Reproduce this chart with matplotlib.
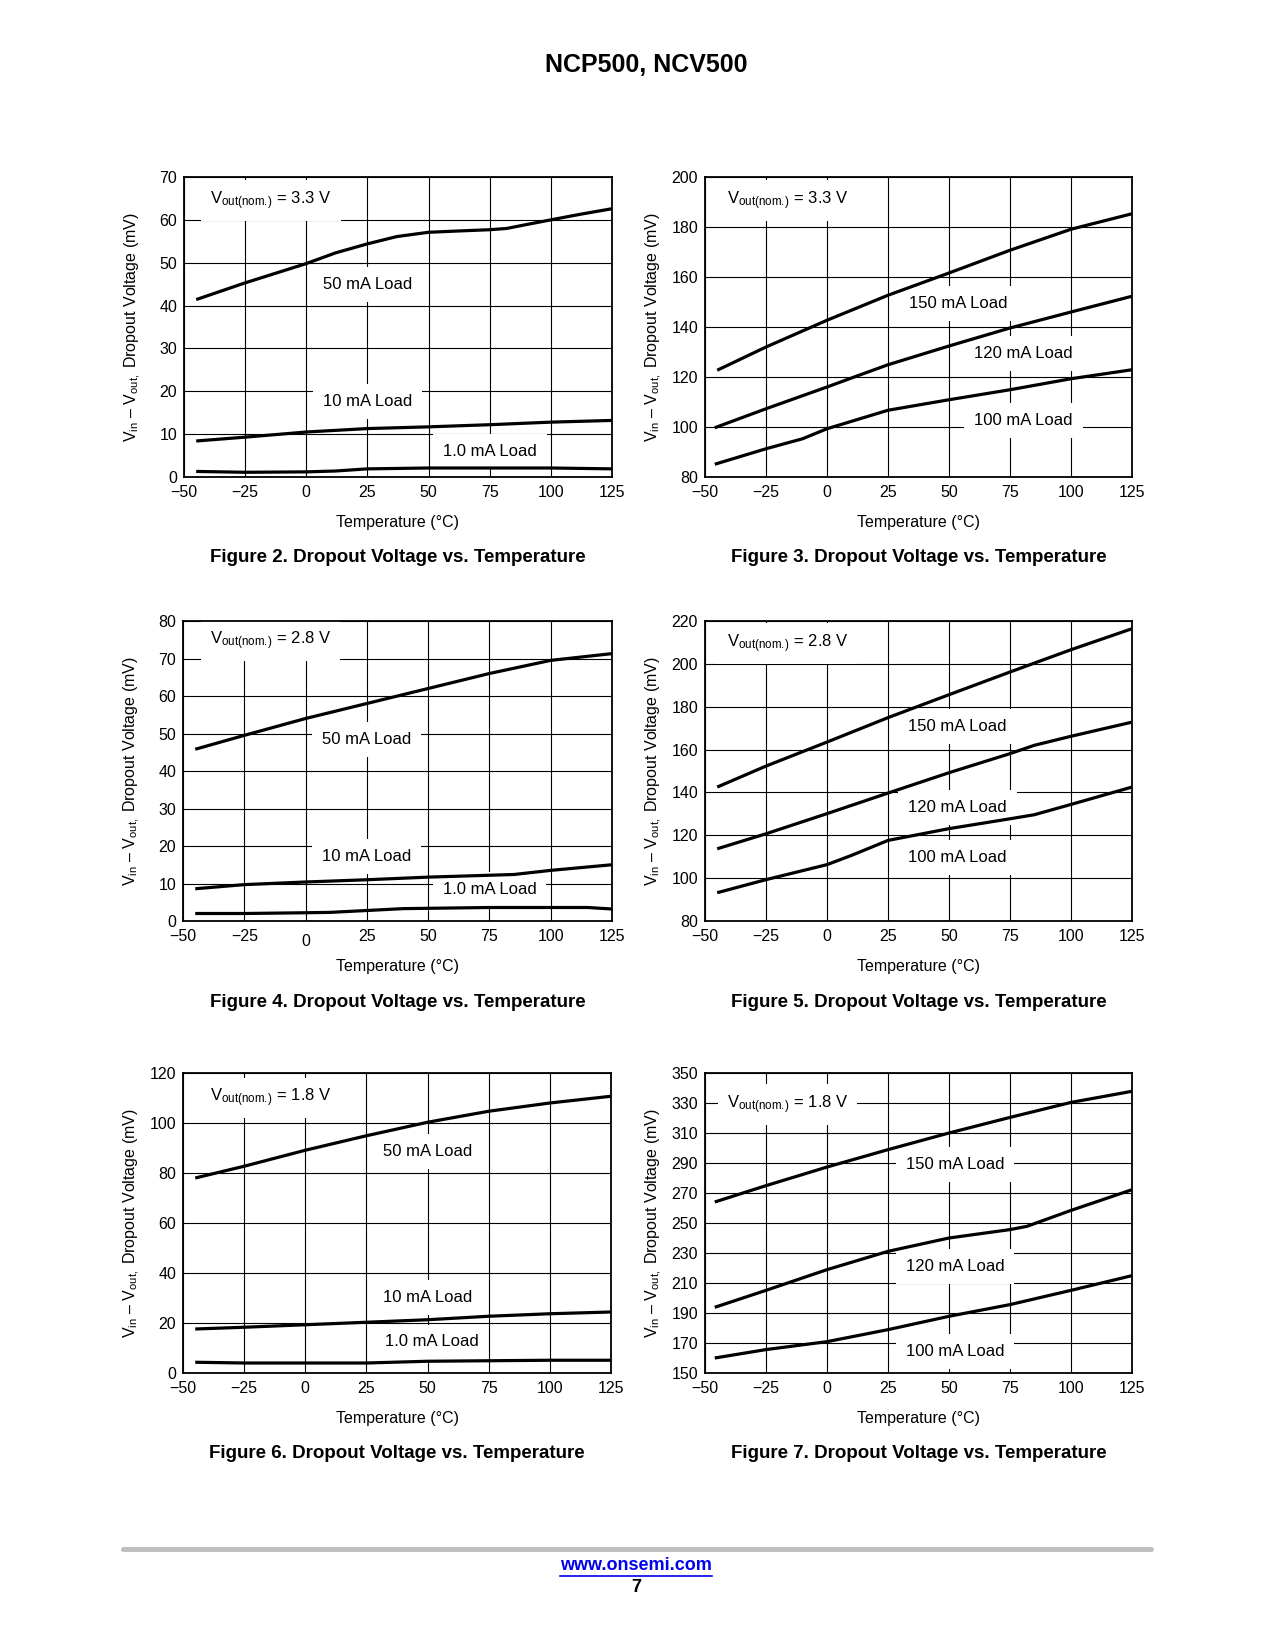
import matplotlib
matplotlib.use("Agg")
import matplotlib.pyplot as plt
from matplotlib.lines import Line2D

plt.rcParams["font.family"] = ["Liberation Sans", "DejaVu Sans"]
plt.rcParams["mathtext.fontset"] = "custom"
plt.rcParams["mathtext.rm"] = "Liberation Sans"
plt.rcParams["mathtext.it"] = "Liberation Sans:italic"
plt.rcParams["mathtext.bf"] = "Liberation Sans:bold"

# ---- data (temperature degC, dropout mV) ----
# Figure 2: Vout(nom.) = 3.3 V, light loads
F2_T50 = [-45, -25, 0, 12, 25, 37, 50, 62, 75, 82, 90, 100, 112, 125]
F2_V50 = [41.4, 45.3, 49.8, 52.3, 54.4, 56.1, 57.1, 57.4, 57.7, 58.0, 58.9, 60.0, 61.3, 62.6]
F2_T10 = [-45, -25, 0, 25, 50, 75, 100, 125]
F2_V10 = [8.4, 9.3, 10.5, 11.3, 11.7, 12.2, 12.8, 13.2]
F2_T1 = [-45, -25, 0, 12, 25, 50, 75, 100, 125]
F2_V1 = [1.3, 1.1, 1.2, 1.4, 1.9, 2.1, 2.1, 2.1, 1.9]

# Figure 3: Vout(nom.) = 3.3 V, heavy loads
F3_T150 = [-45, -25, 0, 25, 50, 75, 100, 125]
F3_V150 = [122.7, 132.0, 142.7, 152.7, 161.6, 170.7, 179.1, 185.3]
F3_T120 = [-46, -25, 0, 12, 25, 50, 75, 100, 125]
F3_V120 = [99.7, 107.3, 116.0, 120.3, 124.9, 132.4, 139.6, 146.0, 152.3]
F3_T100 = [-46, -25, -10, 0, 25, 50, 75, 100, 125]
F3_V100 = [85.1, 91.3, 95.3, 99.3, 106.7, 110.9, 114.9, 119.3, 122.9]

# Figure 4: Vout(nom.) = 2.8 V, light loads
F4_T50 = [-45, -25, 0, 25, 50, 75, 100, 125]
F4_V50 = [45.8, 49.5, 54.0, 58.0, 62.0, 66.0, 69.5, 71.3]
F4_T10 = [-45, -25, 0, 25, 50, 75, 85, 100, 125]
F4_V10 = [8.6, 9.7, 10.4, 11.0, 11.7, 12.2, 12.4, 13.5, 15.0]
F4_T1 = [-45, -25, 0, 10, 25, 40, 75, 100, 115, 125]
F4_V1 = [2.0, 2.0, 2.2, 2.3, 2.8, 3.3, 3.6, 3.6, 3.6, 3.2]

# Figure 5: Vout(nom.) = 2.8 V, heavy loads
F5_T150 = [-45, -25, 0, 25, 50, 75, 100, 125]
F5_V150 = [142.5, 152.3, 163.5, 174.9, 185.6, 196.2, 206.6, 216.4]
F5_T120 = [-45, -25, 0, 25, 50, 75, 85, 100, 125]
F5_V120 = [113.7, 120.7, 130.1, 139.7, 149.2, 158.1, 162.0, 166.2, 172.8]
F5_T100 = [-45, -25, 0, 10, 25, 50, 75, 85, 100, 125]
F5_V100 = [93.2, 99.3, 106.3, 110.6, 117.6, 123.1, 127.7, 129.6, 134.4, 142.5]

# Figure 6: Vout(nom.) = 1.8 V, light loads
F6_T50 = [-45, -25, 0, 25, 50, 75, 100, 125]
F6_V50 = [78.0, 82.7, 89.1, 94.9, 100.3, 104.7, 108.0, 110.7]
F6_T10 = [-45, -25, 0, 25, 50, 75, 100, 125]
F6_V10 = [17.6, 18.3, 19.3, 20.3, 21.3, 22.7, 23.7, 24.4]
F6_T1 = [-45, -25, 0, 25, 50, 75, 100, 125]
F6_V1 = [4.3, 4.0, 4.0, 4.0, 4.7, 4.9, 5.1, 5.1]

# Figure 7: Vout(nom.) = 1.8 V, heavy loads
F7_T150 = [-46, -25, 0, 25, 50, 75, 100, 125]
F7_V150 = [264.0, 274.9, 287.3, 298.9, 310.0, 320.4, 330.4, 337.8]
F7_T120 = [-46, -25, 0, 25, 50, 75, 82, 100, 125]
F7_V120 = [193.8, 205.1, 218.9, 231.1, 240.0, 245.6, 247.8, 258.4, 272.2]
F7_T100 = [-46, -25, 0, 25, 50, 75, 100, 125]
F7_V100 = [160.0, 165.6, 170.9, 178.9, 187.8, 195.6, 205.1, 214.9]

X_TICKS = [-50, -25, 0, 25, 50, 75, 100, 125]

W, H = 1275, 1650
fig = plt.figure(figsize=(W / 100, H / 100), dpi=100)


def make_axes(left, top, right, bottom):
    return fig.add_axes([left / W, 1 - bottom / H, (right - left) / W, (bottom - top) / H])


def style(ax, ylim, ystep, fignum):
    ax.set_xlim(-50, 125)
    ax.set_ylim(*ylim)
    ax.set_xticks(X_TICKS)
    ax.set_yticks(range(ylim[0], ylim[1] + 1, ystep))
    ax.grid(True, color="black", lw=0.8)
    ax.tick_params(axis="x", length=0, labelsize=11.5, pad=6)
    ax.tick_params(axis="y", length=0, labelsize=11.5, pad=5)
    for s in ax.spines.values():
        s.set_linewidth(1.3)
    ax.text(0.5, -0.152, "Temperature (\u00b0C)", transform=ax.transAxes,
            ha="center", va="center", fontsize=11.5)
    ax.text(-0.12, 0.5, "V$_{\\mathrm{in}}$ \u2013 V$_{\\mathrm{out,}}$ Dropout Voltage (mV)",
            transform=ax.transAxes, rotation=90, ha="center", va="center", fontsize=11.5)
    ax.text(0.5, -0.27, f"Figure {fignum}. Dropout Voltage vs. Temperature",
            transform=ax.transAxes, ha="center", va="center", fontsize=13.5, fontweight="bold")


def curve(ax, t, v):
    ax.plot(t, v, color="black", lw=2.3, solid_capstyle="butt", solid_joinstyle="round", zorder=3)


def label(ax, x, y, s, ha="center"):
    ax.text(x, y, s, ha=ha, va="center", fontsize=12, zorder=2,
            bbox=dict(boxstyle="square,pad=0.6", fc="white", ec="none"))


def vout(ax, x, y, s):
    ax.text(x, y, "V$_{\\mathrm{out(nom.\\!)}}$ = " + s, ha="left", va="center", fontsize=12,
            zorder=2, bbox=dict(boxstyle="square,pad=0.55", fc="white", ec="none"))


# Figure 2
ax = make_axes(184, 177, 612, 477)
style(ax, (0, 70), 10, 2)
curve(ax, F2_T50, F2_V50); curve(ax, F2_T10, F2_V10); curve(ax, F2_T1, F2_V1)
vout(ax, -39.4, 64.5, "3.3 V")
label(ax, 25, 44.9, "50 mA Load")
label(ax, 25, 17.6, "10 mA Load")
label(ax, 75, 6.0, "1.0 mA Load")

# Figure 3
ax = make_axes(705, 177, 1132, 477)
style(ax, (80, 200), 20, 3)
curve(ax, F3_T150, F3_V150); curve(ax, F3_T120, F3_V120); curve(ax, F3_T100, F3_V100)
vout(ax, -41.1, 190.7, "3.3 V")
label(ax, 53.9, 149.6, "150 mA Load")
label(ax, 80.5, 129.6, "120 mA Load")
label(ax, 80.5, 102.7, "100 mA Load")

# Figure 4
ax = make_axes(183, 621, 612, 921)
style(ax, (0, 80), 10, 4)
ax.xaxis.get_major_ticks()[2].set_pad(9)
curve(ax, F4_T50, F4_V50); curve(ax, F4_T10, F4_V10); curve(ax, F4_T1, F4_V1)
vout(ax, -39.1, 74.8, "2.8 V")
label(ax, 25, 48.4, "50 mA Load")
label(ax, 25, 17.1, "10 mA Load")
label(ax, 75, 8.4, "1.0 mA Load")

# Figure 5
ax = make_axes(705, 621, 1132, 921)
style(ax, (80, 220), 20, 5)
curve(ax, F5_T150, F5_V150); curve(ax, F5_T120, F5_V120); curve(ax, F5_T100, F5_V100)
vout(ax, -41.1, 209.4, "2.8 V")
label(ax, 53.4, 170.8, "150 mA Load")
label(ax, 53.4, 133.2, "120 mA Load")
label(ax, 53.4, 109.5, "100 mA Load")

# Figure 6
ax = make_axes(183, 1073, 611, 1373)
style(ax, (0, 120), 20, 6)
curve(ax, F6_T50, F6_V50); curve(ax, F6_T10, F6_V10); curve(ax, F6_T1, F6_V1)
vout(ax, -39.1, 110.0, "1.8 V")
label(ax, 50, 88.7, "50 mA Load")
label(ax, 50, 30.4, "10 mA Load")
label(ax, 51.6, 12.4, "1.0 mA Load")

# Figure 7
ax = make_axes(705, 1073, 1132, 1373)
style(ax, (150, 350), 20, 7)
curve(ax, F7_T150, F7_V150); curve(ax, F7_T120, F7_V120); curve(ax, F7_T100, F7_V100)
vout(ax, -41.1, 328.9, "1.8 V")
label(ax, 52.4, 288.9, "150 mA Load")
label(ax, 52.4, 220.7, "120 mA Load")
label(ax, 52.4, 164.4, "100 mA Load")

# page header / footer
fig.text(646 / W, 1 - 65 / H, "NCP500, NCV500", ha="center", va="center",
         fontsize=18, fontweight="bold")
fig.add_artist(Line2D([123 / W, 1151 / W], [1 - 1549 / H, 1 - 1549 / H], color="#bfbfbf",
                      lw=3.6, solid_capstyle="round"))
url = fig.text(636 / W, 1 - 1566 / H, "www.onsemi.com", ha="center", va="center",
               fontsize=13, fontweight="bold", color="#0000ee")
fig.text(636 / W, 1 - 1587 / H, "7", ha="center", va="center", fontsize=13, fontweight="bold")
fig.canvas.draw()
bb = url.get_window_extent()
fig.add_artist(Line2D([bb.x0 / W, bb.x1 / W], [(bb.y0 - 1) / H, (bb.y0 - 1) / H],
                      color="#0000ee", lw=1.2))

fig.savefig("out.png", dpi=100, facecolor="white")
